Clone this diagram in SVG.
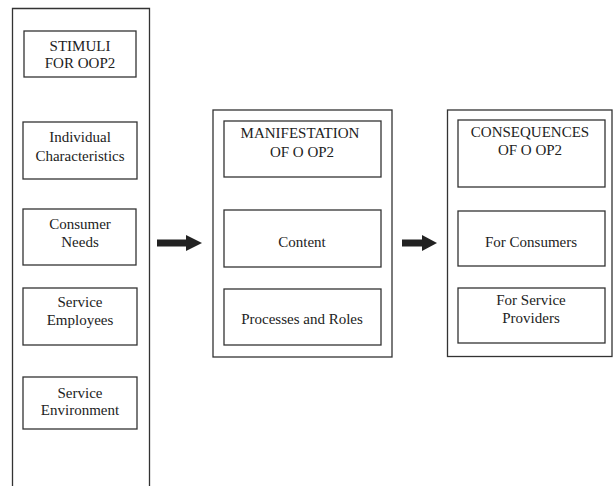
<svg xmlns="http://www.w3.org/2000/svg" width="613" height="486" viewBox="0 0 613 486">
<style>
.box{fill:#fff;stroke:#333;stroke-width:1.3}
.outer{fill:none;stroke:#333;stroke-width:1.3}
text{font-family:"Liberation Serif","Times New Roman",serif;font-size:15px;fill:#222;text-anchor:middle}
.arr{fill:#222}
</style>
<rect width="613" height="486" fill="#fff"/>
<g id="stimuli-column">
<path class="outer" d="M12.5,486 V8.5 H149.5 V486"/>
</g>
<g id="stimuli">
<rect class="box" x="24" y="31" width="112" height="46"/>
<text x="80" y="51">STIMULI</text>
<text x="80" y="68">FOR OOP2</text>
</g>
<g id="individual">
<rect class="box" x="23" y="122" width="114" height="57"/>
<text x="80" y="142">Individual</text>
<text x="80" y="161">Characteristics</text>
</g>
<g id="consumer-needs">
<rect class="box" x="23" y="209" width="113" height="56"/>
<text x="80" y="229">Consumer</text>
<text x="80" y="247">Needs</text>
</g>
<g id="service-employees">
<rect class="box" x="23" y="288" width="114" height="57"/>
<text x="80" y="307">Service</text>
<text x="80" y="325">Employees</text>
</g>
<g id="service-environment">
<rect class="box" x="23" y="377" width="114" height="52"/>
<text x="80" y="398">Service</text>
<text x="80" y="415">Environment</text>
</g>
<g id="manifestation-column">
<rect class="outer" x="213" y="110" width="179" height="247"/>
</g>
<g id="manifestation">
<rect class="box" x="224" y="121" width="157" height="56"/>
<text x="300" y="138">MANIFESTATION</text>
<text x="302" y="157">OF O OP2</text>
</g>
<g id="content">
<rect class="box" x="224" y="210" width="157" height="57"/>
<text x="302" y="247">Content</text>
</g>
<g id="processes">
<rect class="box" x="224" y="289" width="157" height="56"/>
<text x="302" y="324">Processes and Roles</text>
</g>
<g id="consequences-column">
<rect class="outer" x="447.5" y="110" width="164.5" height="246.5"/>
</g>
<g id="consequences">
<rect class="box" x="458" y="120" width="147" height="67"/>
<text x="530" y="137">CONSEQUENCES</text>
<text x="530" y="155">OF O OP2</text>
</g>
<g id="for-consumers">
<rect class="box" x="458" y="211" width="147" height="55"/>
<text x="531" y="247">For Consumers</text>
</g>
<g id="for-providers">
<rect class="box" x="458" y="288" width="147" height="55"/>
<text x="531" y="305">For Service</text>
<text x="531" y="323">Providers</text>
</g>
<g id="connectors">
<polygon class="arr" points="157,239.5 186,239.5 186,235 202,243 186,251 186,246.5 157,246.5"/>
<polygon class="arr" points="402,239.5 422,239.5 422,235 437,243 422,251 422,246.5 402,246.5"/>
</g>
</svg>
